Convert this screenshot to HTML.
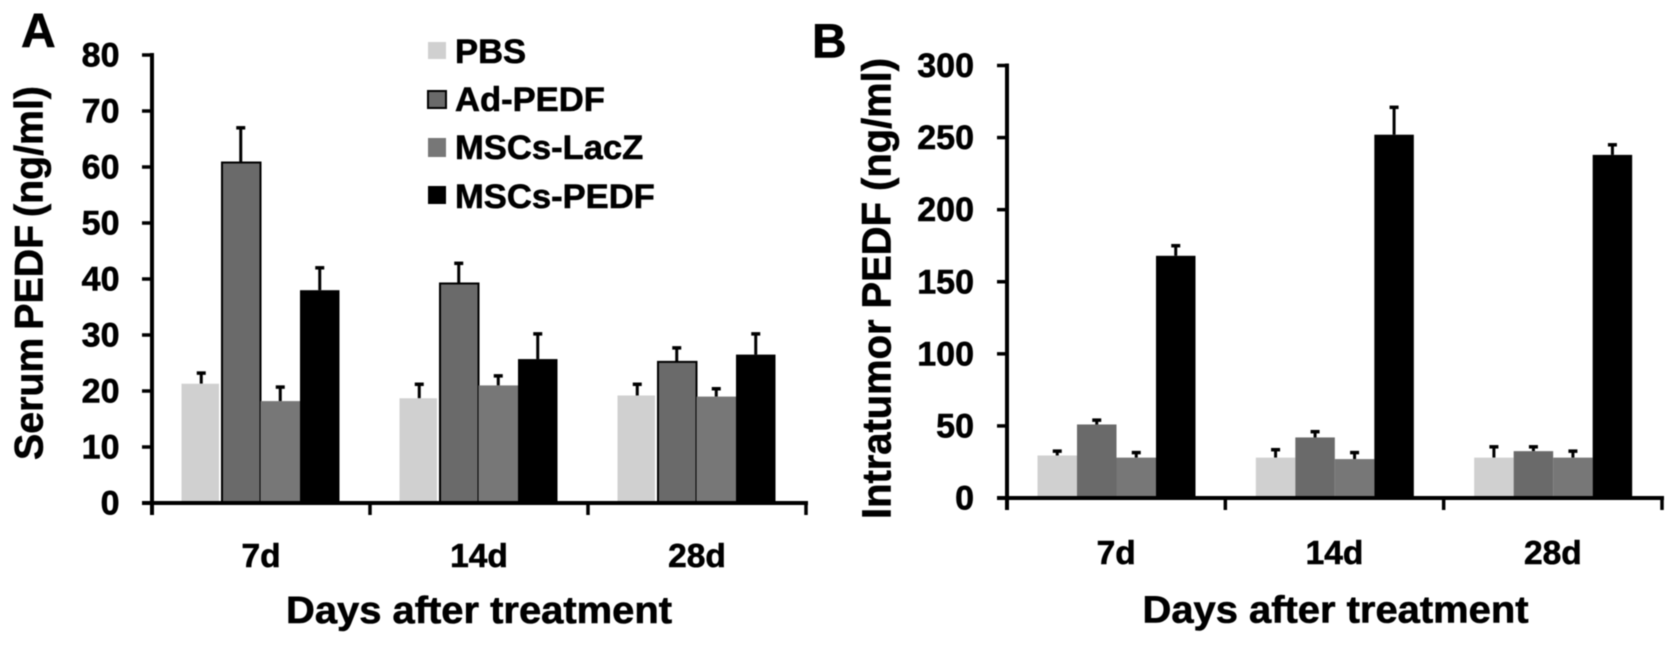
<!DOCTYPE html>
<html lang="en">
<head>
<meta charset="utf-8">
<title>PEDF levels after treatment</title>
<style>
html,body{margin:0;padding:0;background:#fff;width:1677px;height:646px;overflow:hidden}
svg{display:block;filter:blur(0.4px)}
text{font-family:"Liberation Sans",Arial,sans-serif;font-weight:bold;fill:#000;stroke:#000;stroke-width:0.6px}
</style>
</head>
<body>
<svg id="figure" xmlns="http://www.w3.org/2000/svg" width="1677" height="646" viewBox="0 0 1677 646">
  <rect width="1677" height="646" fill="#fff"/>
  <text x="21" y="47" font-size="48">A</text>
  <text x="812" y="57.5" font-size="48">B</text>
  <g id="legend">
    <rect x="428" y="42" width="18" height="17" fill="#d0d0d0"/>
    <text x="455" y="63" font-size="34.6">PBS</text>
    <rect x="428" y="91" width="18" height="17" fill="#6a6a6a" stroke="#000" stroke-width="2"/>
    <text x="455" y="111" font-size="34.6">Ad-PEDF</text>
    <rect x="428" y="138" width="18" height="19" fill="#777"/>
    <text x="455" y="159" font-size="34.6">MSCs-LacZ</text>
    <rect x="428" y="186" width="18" height="18" fill="#000"/>
    <text x="455" y="208" font-size="34.6">MSCs-PEDF</text>
  </g>
  <g id="chart-a"></g>
  <g id="chart-b"></g>
</svg>
<script>
const categories = ['7d', '14d', '28d'];
const seriesKeys = ['pbs', 'ad-pedf', 'mscs-lacz', 'mscs-pedf'];
const seriesColors = ['#d0d0d0', '#6a6a6a', '#777777', '#000000'];

const serumTicks = [0, 10, 20, 30, 40, 50, 60, 70, 80];
const serumPbs = [21.3, 18.7, 19.2];
const serumAdPedf = [60.8, 39.2, 25.2];
const serumLacZ = [18.2, 21.0, 19.0];
const serumMscsPedf = [38.0, 25.7, 26.5];
const serumPbsErr = [1.9, 2.5, 2.0];
const serumAdPedfErr = [6.2, 3.6, 2.5];
const serumLacZErr = [2.5, 1.7, 1.4];
const serumMscsPedfErr = [4.0, 4.5, 3.7];

const tumorTicks = [0, 50, 100, 150, 200, 250, 300];
const tumorPbs = [29.5, 28.0, 28.0];
const tumorAdPedf = [51.0, 42.0, 32.5];
const tumorLacZ = [28.0, 27.0, 28.0];
const tumorMscsPedf = [168.0, 252.0, 238.0];
const tumorPbsErr = [3.0, 5.5, 7.5];
const tumorAdPedfErr = [3.0, 4.0, 3.0];
const tumorLacZErr = [3.5, 4.5, 4.5];
const tumorMscsPedfErr = [7.0, 19.0, 7.0];

const NS = 'http://www.w3.org/2000/svg';
function make(parent, tag, attrs, txt) {
  const el = document.createElementNS(NS, tag);
  for (const k in attrs) el.setAttribute(k, attrs[k]);
  if (txt !== undefined) el.textContent = txt;
  parent.appendChild(el);
  return el;
}

function drawChart(root, layout, ticks, values, errors) {
  const maxV = ticks[ticks.length - 1];
  const y = v => layout.y0 - (v / maxV) * (layout.y0 - layout.yTop);
  const catW = (layout.xRight - layout.x0) / categories.length;
  const barX = (c, s) => layout.x0 + c * catW + layout.groupOffset + s * layout.barW;

  values.forEach((seriesVals, s) => {
    seriesVals.forEach((v, c) => {
      const cx = barX(c, s) + layout.barW / 2;
      const errTop = y(v + errors[s][c]);
      const stem = make(root, 'line', { x1: cx, x2: cx, y1: y(v), y2: errTop, stroke: '#000', 'stroke-width': 3 });
      
      
      const cap = make(root, 'line', { x1: cx - 4.5, x2: cx + 4.5, y1: errTop, y2: errTop, stroke: '#000', 'stroke-width': 3.5 });
      
      
    });
  });

  values.forEach((seriesVals, s) => {
    seriesVals.forEach((v, c) => {
      const outlined = layout.outlineAd && s === 1;
      const narrowed = layout.outlineAd && s === 0;
      const top = y(v);
      const bar = make(root, 'rect', {
        x: barX(c, s) + (outlined ? 1 : 0),
        y: top,
        width: layout.barW - (narrowed ? 2 : 0) - (outlined ? 1 : 0),
        height: layout.y0 - top,
        fill: seriesColors[s]
      });
      if (outlined) {
        bar.setAttribute('stroke', '#000');
        bar.setAttribute('stroke-width', '2');
      }
      
      
    });
  });

  const yAxis = make(root, 'line', { x1: layout.x0, x2: layout.x0, y1: layout.yTop - 2, y2: layout.y0 + 12, stroke: '#000', 'stroke-width': 4 });
  
  
  const xAxis = make(root, 'line', { x1: layout.x0 - 10, x2: layout.xRight + 2, y1: layout.y0, y2: layout.y0, stroke: '#000', 'stroke-width': 4 });
  
  

  ticks.forEach(t => {
    const tickY = y(t);
    const mark = make(root, 'line', { x1: layout.x0 - 10, x2: layout.x0, y1: tickY, y2: tickY, stroke: '#000', 'stroke-width': 3.5 });
    
    
    const label = make(root, 'text', { x: layout.tickLabelX, y: tickY + 11.5, 'font-size': 34, 'text-anchor': 'end' }, String(t));
    
    
  });

  for (let i = 1; i <= categories.length; i++) {
    const tx = layout.x0 + i * catW;
    const mark = make(root, 'line', { x1: tx, x2: tx, y1: layout.y0, y2: layout.y0 + 12, stroke: '#000', 'stroke-width': 3.5 });
    
    
  }

  categories.forEach((cat, c) => {
    const label = make(root, 'text', { x: layout.x0 + (c + 0.5) * catW, y: layout.catBaseline, 'font-size': 33.5, 'text-anchor': 'middle' }, cat);
    
    
  });

  const xTitle = make(root, 'text', { x: layout.xTitleX, y: layout.xTitleY, 'font-size': 38, textLength: layout.xTitleLen, lengthAdjust: 'spacingAndGlyphs' }, 'Days after treatment');
  
  

  const yTitle = make(root, 'text', {
    transform: 'translate(' + layout.yTitleBase + ' ' + layout.yTitleBottom + ') rotate(-90)',
    x: 0, y: 0, 'font-size': layout.yTitleSize, 'word-spacing': layout.yTitleWordGap,
    textLength: layout.yTitleLen, lengthAdjust: 'spacingAndGlyphs'
  }, layout.yTitle);
  
  
}

drawChart(document.getElementById('chart-a'),
  { x0: 152, xRight: 806, y0: 503, yTop: 55, groupOffset: 29.5, barW: 39.5, outlineAd: true,
    tickLabelX: 119.5, catBaseline: 567,
    xTitleX: 286, xTitleY: 623, xTitleLen: 386,
    yTitleBase: 42.5, yTitleBottom: 460, yTitleLen: 374, yTitleSize: 40, yTitleWordGap: -3, yTitle: 'Serum PEDF (ng/ml)' },
  serumTicks,
  [serumPbs, serumAdPedf, serumLacZ, serumMscsPedf],
  [serumPbsErr, serumAdPedfErr, serumLacZErr, serumMscsPedfErr]);

drawChart(document.getElementById('chart-b'),
  { x0: 1007, xRight: 1662, y0: 498, yTop: 65.5, groupOffset: 30.5, barW: 39.5, outlineAd: false,
    tickLabelX: 974, catBaseline: 564,
    xTitleX: 1142.5, xTitleY: 622.5, xTitleLen: 386,
    yTitleBase: 890.7, yTitleBottom: 519, yTitleLen: 461, yTitleSize: 41, yTitleWordGap: 0, yTitle: 'Intratumor PEDF (ng/ml)' },
  tumorTicks,
  [tumorPbs, tumorAdPedf, tumorLacZ, tumorMscsPedf],
  [tumorPbsErr, tumorAdPedfErr, tumorLacZErr, tumorMscsPedfErr]);
</script>
</body>
</html>
